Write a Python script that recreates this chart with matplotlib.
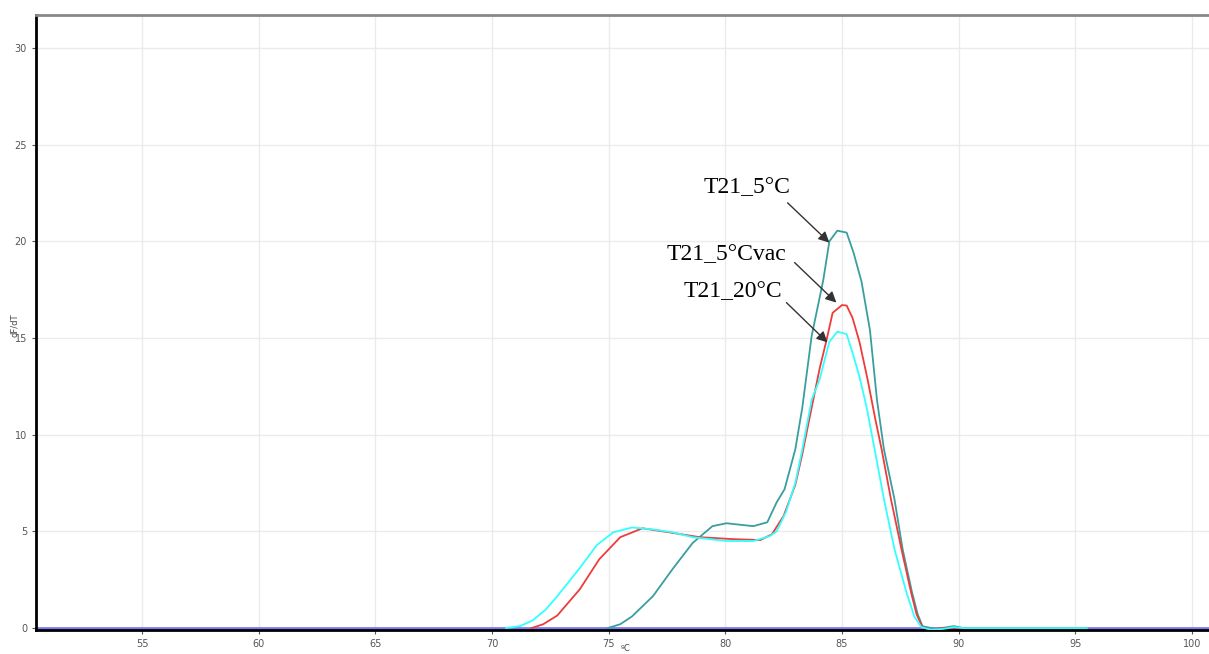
import matplotlib.pyplot as plt

# melt curve values (temperature in C, dF/dT)
t_20c = [70.6, 71.2, 71.75, 72.3, 72.8, 73.76, 74.5, 75.2, 76.0, 76.9, 77.74, 78.6, 80.05, 81.2,
         81.9, 82.2, 82.6, 83.0, 83.3, 83.7, 84.04, 84.46, 84.8, 85.2, 85.45, 85.75, 86.05, 86.4,
         86.8, 87.25, 87.76, 88.1, 88.4, 88.8, 89.3, 89.8, 90.2, 95.5]
v_20c = [0.0, 0.1, 0.4, 0.95, 1.65, 3.1, 4.3, 4.95, 5.2, 5.1, 4.95, 4.7, 4.5, 4.5,
         4.75, 5.0, 6.0, 7.5, 9.24, 11.8, 12.85, 14.8, 15.33, 15.2, 14.25, 13.0, 11.46, 9.24,
         6.66, 4.08, 1.86, 0.6, 0.05, -0.08, -0.05, 0.05, 0.0, 0.0]

t_5cvac = [71.7, 72.2, 72.8, 73.76, 74.6, 75.5, 76.45, 77.6, 78.9, 80.3, 81.5, 82.0, 82.5, 83.0,
           83.3, 83.6, 84.04, 84.34, 84.6, 85.0, 85.2, 85.45, 85.75, 86.1, 86.43, 86.7, 87.1,
           87.55, 87.98, 88.2, 88.45, 88.8, 89.3, 95.5]
v_5cvac = [0.0, 0.2, 0.65, 2.0, 3.56, 4.7, 5.16, 4.95, 4.7, 4.6, 4.55, 4.85, 5.8, 7.4,
           9.0, 10.8, 13.4, 14.9, 16.3, 16.7, 16.68, 16.05, 14.8, 12.85, 10.8, 9.24, 6.66,
           4.08, 1.75, 0.7, 0.05, -0.08, 0.0, 0.0]

t_5c = [74.96, 75.5, 76.0, 76.9, 77.74, 78.6, 79.45, 80.05, 81.2, 81.8, 82.2, 82.54, 83.0, 83.3,
        83.7, 84.2, 84.46, 84.8, 85.2, 85.5, 85.84, 86.2, 86.5, 86.8, 87.25, 87.6, 88.0, 88.25,
        88.45, 89.0, 89.8, 90.2, 95.5]
v_5c = [0.0, 0.2, 0.6, 1.65, 3.05, 4.4, 5.27, 5.42, 5.27, 5.47, 6.5, 7.18, 9.24, 11.4,
        15.1, 18.0, 20.0, 20.55, 20.45, 19.4, 17.9, 15.4, 11.8, 9.24, 6.66, 4.08, 1.86, 0.7,
        0.1, -0.05, 0.1, 0.0, 0.0]

x_ticks = [55, 60, 65, 70, 75, 80, 85, 90, 95, 100]
y_ticks = [0, 5, 10, 15, 20, 25, 30]

fig = plt.figure(figsize=(12.09, 6.54), dpi=100)
ax = fig.add_axes([0.0298, 0.0367, 0.9702, 0.9403])

# baseline across whole range
ax.plot([50.46, 100.73], [0, 0], color='#7b7bee', lw=2, zorder=2)

ax.plot(t_5c, v_5c, color='#3a9e9e', lw=1.3, zorder=3)
ax.plot(t_5cvac, v_5cvac, color='#ee3b3b', lw=1.3, zorder=4)
ax.plot(t_20c, v_20c, color='#33ffff', lw=1.3, zorder=5)

ax.set_xlim(50.46, 100.73)
ax.set_ylim(-0.1, 31.7)
ax.set_xticks(x_ticks)
ax.set_yticks(y_ticks)
ax.tick_params(labelsize=7, colors='#555555', length=3, width=0.8)
ax.grid(True, color='#ebebeb', lw=1)
ax.set_axisbelow(True)

ax.spines['right'].set_visible(False)
ax.spines['top'].set_color('#888888')
ax.spines['top'].set_linewidth(2)
ax.spines['left'].set_linewidth(2)
ax.spines['bottom'].set_linewidth(2)

fig.text(0.012, 0.503, 'dF/dT', rotation=90, fontsize=6, color='#444444', ha='center', va='center')
fig.text(0.517, 0.001, 'ºC', fontsize=6, color='#444444', ha='center', va='bottom')

# labels with arrows
labels = ['T21_5°C', 'T21_5°Cvac', 'T21_20°C']
label_pos = [(80.91, 22.77), (80.05, 19.3), (80.31, 17.4)]
arrow_start = [(82.67, 21.99), (82.97, 18.9), (82.62, 16.83)]
arrow_tip = [(84.46, 19.93), (84.76, 16.83), (84.38, 14.77)]

for lab, pos, st, tip in zip(labels, label_pos, arrow_start, arrow_tip):
    ax.text(pos[0], pos[1], lab, fontsize=17, family='Liberation Serif',
            ha='center', va='center', color='black', zorder=6)
    ax.annotate('', xy=tip, xytext=st,
                arrowprops=dict(arrowstyle='-|>', color='#333333', lw=1,
                                mutation_scale=16, shrinkA=0, shrinkB=0), zorder=6)

plt.savefig('out.png', dpi=100)
